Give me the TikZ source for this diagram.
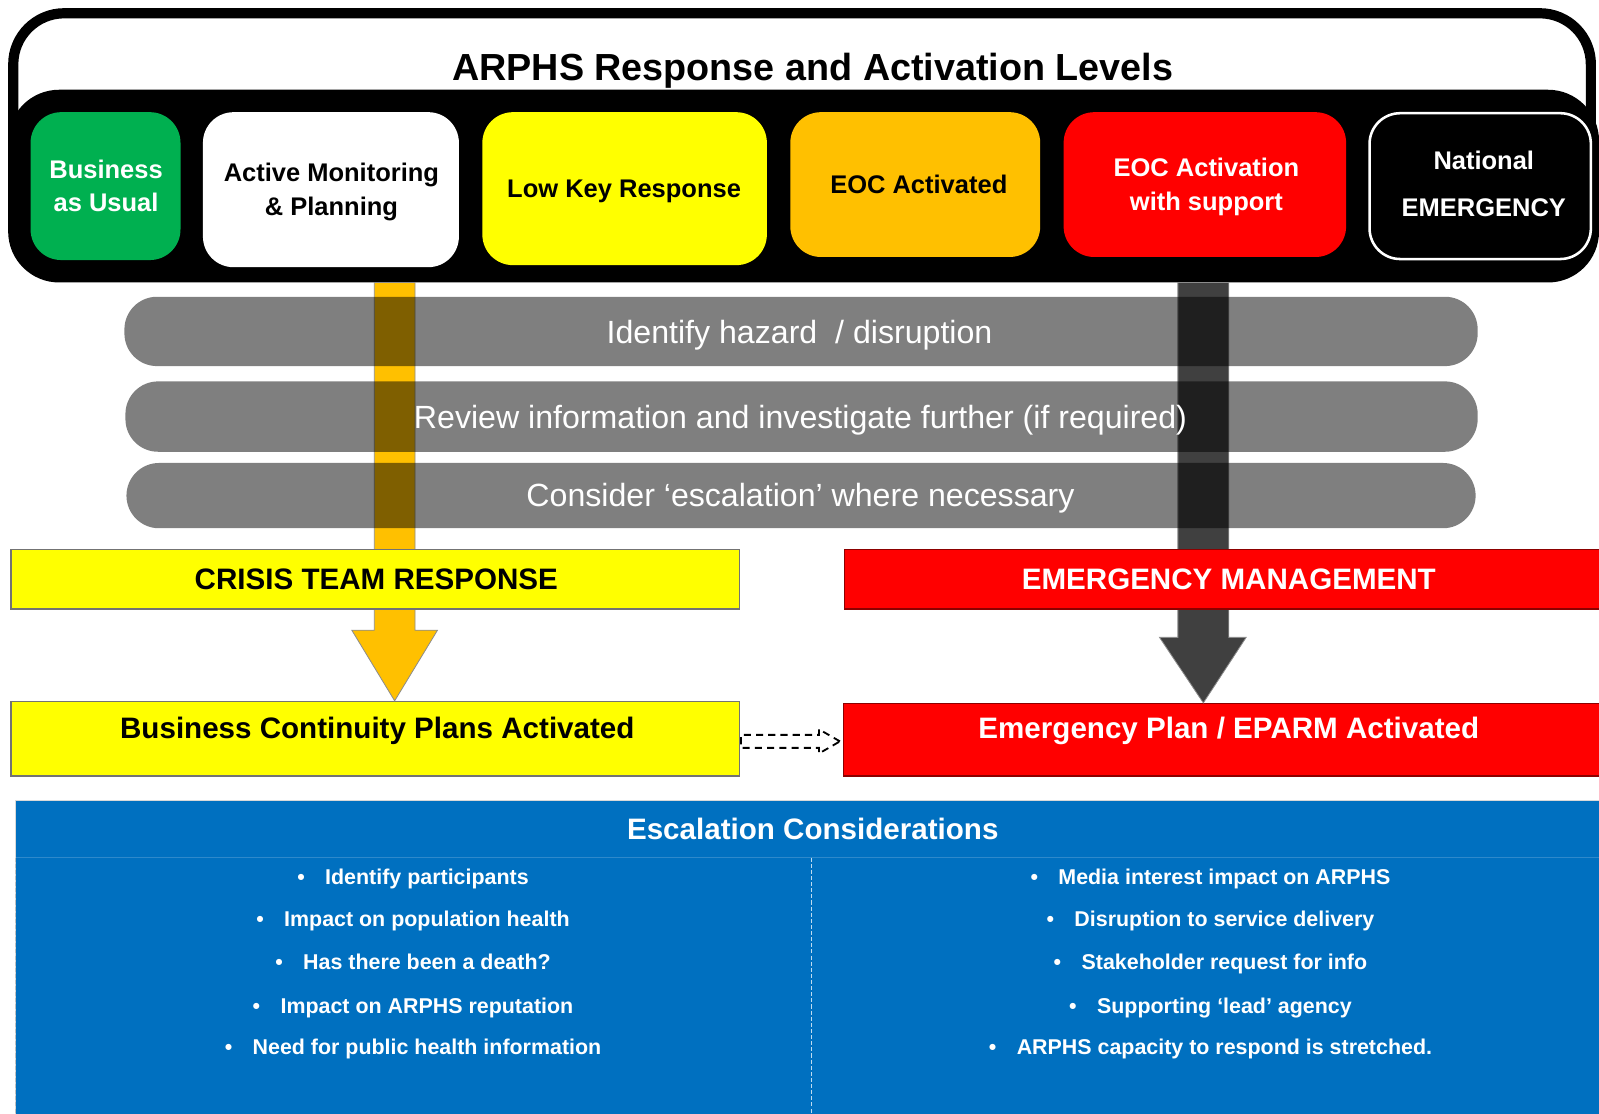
\documentclass[tikz,border=0pt]{standalone}
\usepackage{fontspec}
\setmainfont{Liberation Sans}
\usetikzlibrary{shapes.arrows}

\definecolor{bauGreen}{HTML}{00B050}
\definecolor{lkYellow}{HTML}{FFFF00}
\definecolor{eocOrange}{HTML}{FFC000}
\definecolor{eocRed}{HTML}{FF0000}
\definecolor{panelBlue}{HTML}{0070C0}
\definecolor{barDark}{HTML}{404040}

\begin{document}
\begin{tikzpicture}[x=1pt,y=-1pt,
  levelbox/.style={rounded corners=30pt, inner sep=0pt},
  lvtext/.style={anchor=base, inner sep=0pt, font=\bfseries\fontsize{25}{30}\selectfont},
  pillbox/.style={rounded corners=32pt, fill=black, fill opacity=0.5, inner sep=0pt},
  pilltext/.style={anchor=base, inner sep=0pt, text=white, font=\fontsize{31.5}{36}\selectfont},
  bandbox/.style={inner sep=0pt, line width=1.5pt},
  bandtext/.style={anchor=base, inner sep=0pt, font=\bfseries\fontsize{29}{34}\selectfont},
  itemtext/.style={anchor=base, inner sep=0pt, text=white, font=\bfseries\fontsize{21}{25}\selectfont},
  bararrow/.style={draw=black!45, line width=0.8pt}
]
\useasboundingbox (0,0) rectangle (1568,1092);
\clip (0,0) rectangle (1568,1092);

% outer frame and black level band
\draw[line width=10pt, rounded corners=50pt, fill=white] (13,13) rectangle (1560,210);
\fill[rounded corners=50pt] (8,88) rectangle (1568,277);
\node[anchor=base, inner sep=0pt, font=\bfseries\fontsize{37}{42}\selectfont] (title) at (797,79) {ARPHS Response and Activation Levels};

% activation levels
\node[levelbox, fill=bauGreen, minimum width=147pt, minimum height=145pt] (bau) at (103.5,182.5) {};
\node[levelbox, fill=white, minimum width=251pt, minimum height=152pt] (amp) at (324.5,186) {};
\node[levelbox, fill=lkYellow, minimum width=279pt, minimum height=150pt] (lkr) at (612.5,185) {};
\node[levelbox, fill=eocOrange, minimum width=245pt, minimum height=142pt] (eoc) at (897.5,181) {};
\node[levelbox, fill=eocRed, minimum width=277pt, minimum height=142pt] (eocs) at (1181.5,181) {};
\node[levelbox, fill=black, draw=white, line width=2.5pt, minimum width=217pt, minimum height=143pt] (nat) at (1451.5,182.5) {};

\node[lvtext, text=white] (bau1) at (104,174.6) {Business};
\node[lvtext, text=white] (bau2) at (104,207.6) {as Usual};
\node[lvtext] (amp1) at (325,177.6) {Active Monitoring};
\node[lvtext] (amp2) at (325,211.6) {\& Planning};
\node[lvtext] (lkr1) at (612,193.6) {Low Key Response};
\node[lvtext] (eoc1) at (901,189.6) {EOC Activated};
\node[lvtext, text=white] (eocs1) at (1183,172.6) {EOC Activation};
\node[lvtext, text=white] (eocs2) at (1183,206.6) {with support};
\node[lvtext, text=white] (nat1) at (1455,166.6) {National};
\node[lvtext, text=white] (nat2) at (1455,212.6) {EMERGENCY};

% plan boxes at the foot of the two escalation routes
\node[bandbox, fill=lkYellow, draw=black!55, minimum width=714pt, minimum height=73pt] (bcp) at (368,724.5) {};
\node[bandbox, fill=eocRed, draw=red!55!black, minimum width=780pt, minimum height=71pt] (eparm) at (1217,725.5) {};

% escalation arrows from the band down to the plans
\coordinate (ampfoot) at (387,277);
\coordinate (eocsfoot) at (1180,277);
\filldraw[bararrow, fill=eocOrange]
  ([xshift=-20pt]ampfoot) -- ([xshift=-20pt]ampfoot |- 0,618) -- ([xshift=-42pt]ampfoot |- 0,618)
  -- (bcp.north -| ampfoot) -- ([xshift=42pt]ampfoot |- 0,618) -- ([xshift=20pt]ampfoot |- 0,618)
  -- ([xshift=20pt]ampfoot) -- cycle;
\filldraw[bararrow, fill=barDark]
  ([xshift=-25pt]eocsfoot) -- ([xshift=-25pt]eocsfoot |- 0,625) -- ([xshift=-43pt]eocsfoot |- 0,625)
  -- (eparm.north -| eocsfoot) -- ([xshift=42pt]eocsfoot |- 0,625) -- ([xshift=25pt]eocsfoot |- 0,625)
  -- ([xshift=25pt]eocsfoot) -- cycle;

% response boxes over the arrow shafts
\node[bandbox, fill=lkYellow, draw=black!55, minimum width=714pt, minimum height=58pt] (crisis) at (368,568) {};
\node[bandbox, fill=eocRed, draw=red!55!black, minimum width=780pt, minimum height=58pt] (emg) at (1218,568) {};
\node[bandtext] (crisist) at (369,578.4) {CRISIS TEAM RESPONSE};
\node[bandtext, text=white] (emgt) at (1205,578.4) {EMERGENCY MANAGEMENT};
\node[bandtext] (bcpt) at (370,724.4) {Business Continuity Plans Activated};
\node[bandtext, text=white] (eparmt) at (1205,724.4) {Emergency Plan / EPARM Activated};

% process steps
\node[pillbox, minimum width=1327pt, minimum height=68pt] (step1) at (785.5,325) {};
\node[pillbox, minimum width=1326pt, minimum height=69pt] (step2) at (786,408.5) {};
\node[pillbox, minimum width=1323pt, minimum height=64pt] (step3) at (785.5,486) {};
\node[pilltext] (step1t) at (784,337) {Identify hazard \ / disruption};
\node[pilltext] (step2t) at (785,420) {Review information and investigate further (if required)};
\node[pilltext] (step3t) at (785,497) {Consider ‘escalation’ where necessary};

% dashed link between the two plan boxes
\node[single arrow, draw=black, dashed, dash pattern=on 7pt off 5pt, line width=1.8pt,
  minimum height=97pt, single arrow head extend=5.5pt, single arrow tip angle=60,
  inner xsep=0pt, inner ysep=5.5pt, text height=0pt, text depth=0pt, anchor=tail] (link) at ([yshift=-2.5pt]bcp.east) {};

% escalation considerations panel
\node[fill=panelBlue, draw=black!15, line width=1pt, inner sep=0pt, minimum width=1600pt, minimum height=320pt, anchor=north west] (panel) at (15,784) {};
\draw[white, opacity=0.18, line width=0.8pt] (panel.west |- 0,841) -- (panel.east |- 0,841);
\draw[white, opacity=0.75, line width=0.8pt, dash pattern=on 4pt off 2pt] (796,841) -- (796,1092);
\draw[black!25, line width=1.2pt, dash pattern=on 4pt off 2pt] (15,841) -- (15,1092);
\node[bandtext, text=white] (panelt) at (797,823.4) {Escalation Considerations};

\node[itemtext] (l1) at (405,867.5) {\textbullet\hspace{20pt}Identify participants};
\node[itemtext] (l2) at (405,908.5) {\textbullet\hspace{20pt}Impact on population health};
\node[itemtext] (l3) at (405,950.5) {\textbullet\hspace{20pt}Has there been a death?};
\node[itemtext] (l4) at (405,993.5) {\textbullet\hspace{20pt}Impact on ARPHS reputation};
\node[itemtext] (l5) at (405,1034.5) {\textbullet\hspace{20pt}Need for public health information};

\node[itemtext] (r1) at (1187,867.5) {\textbullet\hspace{20pt}Media interest impact on ARPHS};
\node[itemtext] (r2) at (1187,908.5) {\textbullet\hspace{20pt}Disruption to service delivery};
\node[itemtext] (r3) at (1187,950.5) {\textbullet\hspace{20pt}Stakeholder request for info};
\node[itemtext] (r4) at (1187,993.5) {\textbullet\hspace{20pt}Supporting ‘lead’ agency};
\node[itemtext] (r5) at (1187,1034.5) {\textbullet\hspace{20pt}ARPHS capacity to respond is stretched.};
\end{tikzpicture}
\end{document}
